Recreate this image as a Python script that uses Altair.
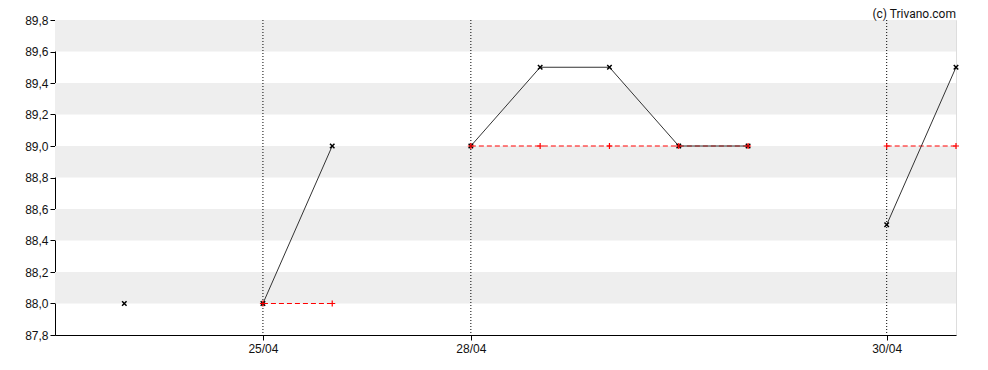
import altair as alt
import pandas as pd

# --- data ---
price_k = [1, 3, 4, 6, 7, 8, 9, 10, 12, 13]
price_v = [88.0, 88.0, 89.0, 89.0, 89.5, 89.5, 89.0, 89.0, 88.5, 89.5]
price_seg = [0, 1, 1, 2, 2, 2, 2, 2, 3, 3]

ref_k = [3, 4, 6, 7, 8, 9, 10, 12, 13]
ref_v = [88.0, 88.0, 89.0, 89.0, 89.0, 89.0, 89.0, 89.0, 89.0]
ref_seg = [1, 1, 2, 2, 2, 2, 2, 3, 3]

tick_pos = [3, 6, 12]
tick_labels = ["25/04", "28/04", "30/04"]

band_starts = [88.0, 88.4, 88.8, 89.2, 89.6]
band_height = 0.2

y_ticks = [87.8, 88.0, 88.2, 88.4, 88.6, 88.8, 89.0, 89.2, 89.4, 89.6, 89.8]

credit = ["(c) Trivano.com"]

price = pd.DataFrame({"k": price_k, "v": price_v, "seg": price_seg})
ref = pd.DataFrame({"k": ref_k, "v": ref_v, "seg": ref_seg})
bands = pd.DataFrame({"y": band_starts, "y2": [b + band_height for b in band_starts]})
vlines = pd.DataFrame({"k": tick_pos})
credit_df = pd.DataFrame({"t": credit})

label_expr = " : ".join(
    f"datum.value == {p} ? '{l}'" for p, l in zip(tick_pos, tick_labels)
) + " : ''"

xscale = alt.Scale(domain=[0, 13], nice=False, zero=False)
yscale = alt.Scale(domain=[87.8, 89.8], nice=False, zero=False)

xaxis = alt.Axis(
    values=tick_pos, labelExpr=label_expr, grid=False, title=None,
    tickSize=5, tickColor="black", domainColor="black", labelFontSize=12,
    labelFont="Liberation Sans", labelColor="#111", labelPadding=3,
    labelOverlap=False,
)
yaxis = alt.Axis(
    values=y_ticks, labelExpr="replace(format(datum.value, '.1f'), '.', ',')",
    grid=False, title=None, tickSize=5, tickColor="black", domainColor="black",
    labelFontSize=12, labelFont="Liberation Sans", labelColor="#111", labelPadding=2,
    labelOverlap=False, labelFlush=False,
)

X = lambda: alt.X("k:Q", scale=xscale, axis=xaxis)
Y = lambda: alt.Y("v:Q", scale=yscale, axis=yaxis)

band_layer = alt.Chart(bands).mark_rect(color="#eeeeee").encode(
    y=alt.Y("y:Q", scale=yscale, axis=yaxis),
    y2="y2:Q",
    x=alt.value(0),
    x2=alt.value(901),
)

vline_layer = alt.Chart(vlines).mark_rule(color="black", strokeDash=[1, 2], strokeWidth=1).encode(
    x=X(),
)

ref_line = alt.Chart(ref).mark_line(color="#ff0000", strokeDash=[5, 3], strokeWidth=1, clip=False).encode(
    x=X(), y=Y(), detail="seg:N",
)

price_line = alt.Chart(price).mark_line(color="#333333", strokeWidth=1).encode(
    x=X(), y=Y(), detail="seg:N",
)

price_pts = alt.Chart(price).mark_point(
    shape="M-1,-1L1,1M-1,1L1,-1", filled=False, color="black", size=20, strokeWidth=1.5, opacity=1
).encode(x=X(), y=Y())

ref_pts = alt.Chart(ref).mark_point(
    shape="M-1,0L1,0M0,-1L0,1", filled=False, color="#ff0000", size=36, strokeWidth=1.2, opacity=1, clip=False
).encode(x=X(), y=Y())

credit_layer = alt.Chart(credit_df).mark_text(
    align="right", baseline="alphabetic", fontSize=12, font="Roboto", color="#111", clip=False
).encode(
    text="t:N",
    x=alt.value(901),
    y=alt.value(-2.5),
)

chart = alt.layer(
    band_layer, vline_layer, ref_line, price_line, price_pts, ref_pts, credit_layer
).properties(
    width=901,
    height=315,
    autosize=alt.AutoSizeParams(type="none"),
    padding={"left": 47, "top": 12, "right": 20, "bottom": 20},
).configure_view(
    stroke="black", strokeWidth=1
).configure(background="white")

chart.save("out.html", embed_options={"renderer": "svg", "actions": False})
